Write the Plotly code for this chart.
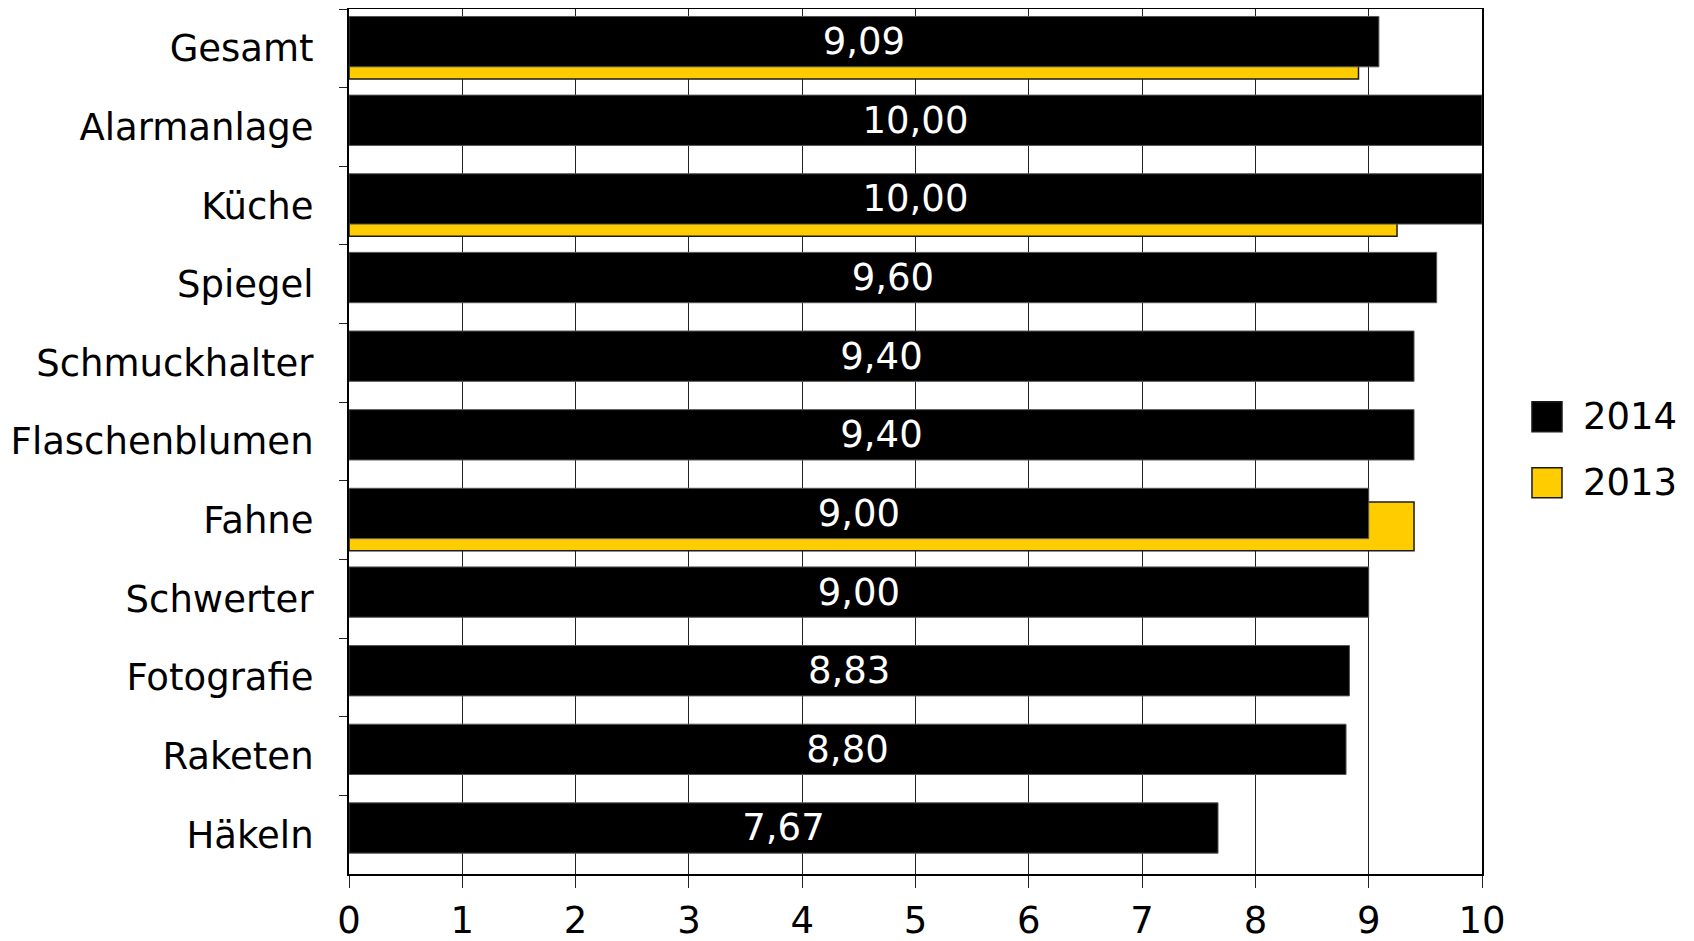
import plotly.graph_objects as go

categories = ["Gesamt", "Alarmanlage", "Küche", "Spiegel", "Schmuckhalter",
              "Flaschenblumen", "Fahne", "Schwerter", "Fotografie", "Raketen", "Häkeln"]
values_2014 = [9.09, 10.00, 10.00, 9.60, 9.40, 9.40, 9.00, 9.00, 8.83, 8.80, 7.67]
values_2013 = [8.91, None, 9.25, None, None, None, 9.40, None, None, None, None]
x_ticks = list(range(0, 11))
series_names = ["2014", "2013"]
series_colors = ["#000000", "#FFCC00"]

FONT = "DejaVu Sans"
FS = 37

fig = go.Figure()

fig.add_trace(go.Bar(
    y=categories, x=values_2013, orientation="h", name=series_names[1],
    marker=dict(color=series_colors[1], line=dict(color="#1a1a1a", width=1.5)),
    width=0.62, offset=-0.23, showlegend=False, hoverinfo="x+name",
))
fig.add_trace(go.Bar(
    y=categories, x=values_2014, orientation="h", name=series_names[0],
    marker=dict(color=series_colors[0], line=dict(color="#555555", width=1)),
    width=0.64, offset=-0.405, showlegend=False,
    texttemplate="%{x:.2f}", textposition="inside", insidetextanchor="middle",
    textangle=0, constraintext="none",
    insidetextfont=dict(color="white", size=FS, family=FONT),
))

# legend drawn as keys + labels beside the plot area
legend_y = [(0.5459, 0.5113), (0.4697, 0.4351)]
for name, color, (y1, y0) in zip(series_names, series_colors, legend_y):
    fig.add_shape(type="rect", xref="paper", yref="paper",
                  x0=1.0441, x1=1.0706, y0=y0, y1=y1,
                  fillcolor=color, line=dict(color="#1a1a1a", width=1.5))
    fig.add_annotation(xref="paper", yref="paper", x=1.087, y=(y0 + y1) / 2,
                       text=name, showarrow=False, xanchor="left", yanchor="middle",
                       font=dict(size=FS, family=FONT, color="black"))

fig.update_layout(
    width=1686, height=933,
    barmode="overlay",
    separators=", ",
    paper_bgcolor="white", plot_bgcolor="white",
    margin=dict(l=341, r=212, t=1, b=67),
    font=dict(family=FONT, size=FS, color="black"),
    showlegend=False,
    xaxis=dict(range=[0, 10], tickvals=x_ticks, ticktext=[str(v) for v in x_ticks],
               automargin=False,
               showgrid=True, gridcolor="#222222", gridwidth=1,
               showline=True, linecolor="black", linewidth=2, mirror=True,
               ticks="outside", ticklen=12, tickcolor="#222222", tickwidth=1,
               zeroline=False, tickfont=dict(size=FS, family=FONT),
               ticklabelstandoff=1),
    yaxis=dict(type="category", range=[10.5, -0.5], automargin=False,
               showgrid=False, showline=True, linecolor="black", linewidth=2, mirror=True,
               ticks="outside", tickson="boundaries", ticklen=8, tickcolor="#222222",
               tickwidth=1, tickfont=dict(size=FS, family=FONT), ticklabelstandoff=26),
)

fig.write_html("out.html")
